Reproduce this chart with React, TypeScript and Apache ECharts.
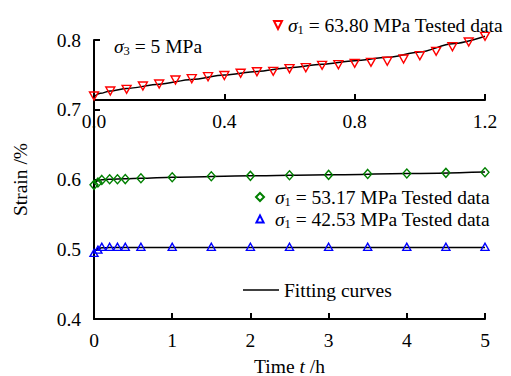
import React, { useEffect, useRef } from 'react';
import * as echarts from 'echarts';

// ---- Data ----
// σ1 = 63.80 MPa (upper panel, time axis 0–1.2 h)
const redTime = [0, 0.05, 0.1, 0.15, 0.2, 0.25, 0.3, 0.35, 0.4, 0.45, 0.5, 0.55, 0.6, 0.65, 0.7, 0.75, 0.8, 0.85, 0.9, 0.95, 1.0, 1.05, 1.1, 1.15, 1.2];
const redStrain = [0.7197, 0.7269, 0.7293, 0.7341, 0.7369, 0.7427, 0.7445, 0.7474, 0.7491, 0.7523, 0.7545, 0.7551, 0.7589, 0.7603, 0.7637, 0.7646, 0.7666, 0.768, 0.7695, 0.7728, 0.7775, 0.7838, 0.7904, 0.7971, 0.8053];
const redFitTime = [0, 0.02, 0.05, 0.1, 0.2, 0.3, 0.4, 0.5, 0.6, 0.7, 0.8, 0.9, 1.0, 1.1, 1.2];
const redFitStrain = [0.7187, 0.7235, 0.727, 0.7305, 0.7365, 0.7435, 0.7498, 0.755, 0.7603, 0.7652, 0.7703, 0.7752, 0.7828, 0.7947, 0.8053];

// σ1 = 53.17 and 42.53 MPa (main panel, time axis 0–5 h)
const lowTime = [0, 0.05, 0.1, 0.2, 0.3, 0.4, 0.6, 1.0, 1.5, 2.0, 2.5, 3.0, 3.5, 4.0, 4.5, 5.0];
const greenStrain = [0.5923, 0.5956, 0.5994, 0.6004, 0.6004, 0.6006, 0.6017, 0.6033, 0.6047, 0.6052, 0.6062, 0.6066, 0.608, 0.6085, 0.6095, 0.6105];
const blueStrain = [0.4947, 0.4995, 0.5035, 0.5035, 0.5035, 0.5035, 0.5035, 0.5035, 0.5035, 0.5035, 0.5035, 0.5035, 0.5035, 0.5035, 0.5035, 0.5035];
const greenFitTime = [0, 0.02, 0.05, 0.1, 0.2, 0.4, 0.6, 1, 2, 3, 4, 5];
const greenFitStrain = [0.5923, 0.5962, 0.5984, 0.5996, 0.6004, 0.6011, 0.6018, 0.6033, 0.6053, 0.6068, 0.6085, 0.6107];
const blueFitTime = [0, 0.02, 0.05, 0.1, 0.2, 1, 2, 3, 4, 5];
const blueFitStrain = [0.4945, 0.4985, 0.501, 0.5021, 0.5024, 0.5025, 0.5025, 0.5025, 0.5025, 0.5025];

const redName = 'σ1 = 63.80 MPa Tested data';
const greenName = 'σ1 = 53.17 MPa Tested data';
const blueName = 'σ1 = 42.53 MPa Tested data';
const fitName = 'Fitting curves';

const FONT = 'Liberation Serif, Times New Roman, serif';
const FS = 19.5;

const zip = (xs: number[], ys: number[]) => xs.map((x, i) => [x, ys[i]]);

const rich = {
  s: { fontFamily: FONT, fontSize: FS, fontStyle: 'italic', color: '#000', lineHeight: 22 },
  sub: { fontFamily: FONT, fontSize: 12.5, color: '#000', lineHeight: 14, verticalAlign: 'bottom' },
  t: { fontFamily: FONT, fontSize: FS, color: '#000', lineHeight: 22 },
};

const nameRich = {
  s: { fontFamily: FONT, fontSize: FS, fontStyle: 'italic', color: '#000', lineHeight: 18 },
  t: { fontFamily: FONT, fontSize: FS, color: '#000', lineHeight: 18 },
};

const fmtName = (name: string) => {
  const m = name.match(/^σ(\d)(.*)$/);
  if (m) return `{s|σ}{sub|${m[1]}}{t|${m[2]}}`;
  return `{t|${name}}`;
};

export default function App() {
  const ref = useRef<HTMLDivElement>(null);
  useEffect(() => {
    if (!ref.current) return;
    const chart = echarts.init(ref.current, undefined, { renderer: 'svg' });
    const axisLine = { show: true, onZero: false, lineStyle: { color: '#000', width: 2 } };
    const axisTick = { show: true, inside: true, length: 6, lineStyle: { color: '#000', width: 2 } };
    const axisLabelBase = { color: '#000', fontFamily: FONT, fontSize: FS };
    const gridTop = 40;
    const gridBottomPx = 319;
    const pxPerUnit = (gridBottomPx - gridTop) / 0.4;
    const upperHeight = 60;

    const legendBase = {
      padding: 0,
      orient: 'horizontal' as const,
      formatter: fmtName,
      textStyle: { color: '#000', fontFamily: FONT, fontSize: FS, rich },
      lineStyle: { opacity: 0 },
      selectedMode: false,
    };

    const markerSeries = (name: string, xIdx: number, yIdx: number, data: number[][], symbol: string, size: number[], rotate: number, color: string) => ({
      name,
      type: 'line',
      xAxisIndex: xIdx,
      yAxisIndex: yIdx,
      data,
      symbol,
      symbolSize: size,
      symbolRotate: rotate,
      showSymbol: true,
      clip: false,
      z: 3,
      lineStyle: { width: 0, opacity: 0 },
      itemStyle: { color: 'rgba(255,255,255,0)', borderColor: color, borderWidth: 1.4 },
    });

    const fitSeries = (xIdx: number, yIdx: number, data: number[][]) => ({
      name: fitName,
      type: 'line',
      xAxisIndex: xIdx,
      yAxisIndex: yIdx,
      data,
      symbol: 'none',
      smooth: 0.3,
      smoothMonotone: 'x',
      clip: false,
      z: 2,
      lineStyle: { color: '#000', width: 1.5 },
      itemStyle: { color: '#000' },
    });

    chart.setOption({
      animation: false,
      backgroundColor: '#fff',
      grid: [
        { left: 94, right: 26, top: gridTop, bottom: 376 - gridBottomPx, outerBoundsMode: 'none', containLabel: false },
        { left: 94, right: 26, top: gridTop, height: upperHeight, outerBoundsMode: 'none', containLabel: false },
      ],
      xAxis: [
        {
          type: 'value', gridIndex: 0, min: 0, max: 5, interval: 1, position: 'bottom',
          axisLine, axisTick, splitLine: { show: false },
          axisLabel: { ...axisLabelBase, margin: 11 },
          name: '{t|Time }{s|t}{t| /h}',
          nameLocation: 'middle', nameGap: 38,
          nameTextStyle: { rich: nameRich, lineHeight: 18 },
        },
        {
          type: 'value', gridIndex: 1, min: 0, max: 1.2, interval: 0.4, position: 'bottom',
          axisLine, axisTick, splitLine: { show: false },
          axisLabel: { ...axisLabelBase, margin: 11, formatter: (v: number) => v.toFixed(1) },
        },
      ],
      yAxis: [
        {
          type: 'value', gridIndex: 0, min: 0.4, max: 0.8, interval: 0.1,
          axisLine, axisTick, splitLine: { show: false },
          axisLabel: { ...axisLabelBase, margin: 13, formatter: (v: number) => v.toFixed(1) },
          name: 'Strain /%', nameLocation: 'middle', nameGap: 64,
          nameTextStyle: { color: '#000', fontFamily: FONT, fontSize: FS },
        },
        {
          type: 'value', gridIndex: 1, min: 0.8 - upperHeight / pxPerUnit, max: 0.8, show: false,
          splitLine: { show: false },
        },
      ],
      legend: [
        { ...legendBase, data: [redName], left: 273, top: 15, itemWidth: 10, itemHeight: 10 },
        { ...legendBase, data: [greenName], left: 250, top: 187, itemWidth: 20, itemHeight: 10 },
        { ...legendBase, data: [blueName], left: 250, top: 209, itemWidth: 20, itemHeight: 9 },
        { ...legendBase, data: [{ name: fitName, icon: 'rect' }], left: 243, top: 280, itemWidth: 36, itemHeight: 1.5 },
      ],
      graphic: [
        {
          type: 'text', left: 114, top: 36,
          style: { text: '{s|σ}{sub|3}{t| = 5 MPa}', rich },
        },
      ],
      series: [
        fitSeries(1, 1, zip(redFitTime, redFitStrain)),
        fitSeries(0, 0, zip(greenFitTime, greenFitStrain)),
        fitSeries(0, 0, zip(blueFitTime, blueFitStrain)),
        markerSeries(redName, 1, 1, zip(redTime, redStrain), 'triangle', [9, 8], 180, '#ff0000'),
        markerSeries(greenName, 0, 0, zip(lowTime, greenStrain), 'diamond', [8, 9], 0, '#008000'),
        markerSeries(blueName, 0, 0, zip(lowTime, blueStrain), 'triangle', [8, 7], 0, '#0000ff'),
      ],
    });
    return () => chart.dispose();
  }, []);
  return <div ref={ref} style={{ width: 511, height: 376, position: 'absolute', left: 0, top: 0 }} />;
}
